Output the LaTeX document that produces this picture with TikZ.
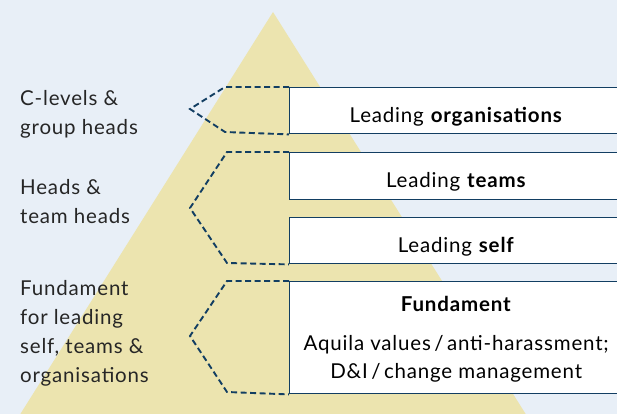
\documentclass[tikz,border=0pt]{standalone}
\usepackage{fontspec}
\setmainfont{Lato}[LetterSpace=4]
\definecolor{bgblue}{RGB}{232,239,247}
\definecolor{pyr}{RGB}{236,228,175}
\definecolor{navy}{RGB}{18,62,98}
\begin{document}
\begin{tikzpicture}[x=1pt,y=-1pt,
  lvl/.style={draw=navy, line width=1.4pt, fill=white, anchor=north west,
    minimum width=333pt, inner xsep=0pt, inner ysep=0pt,
    font=\fontsize{20.5}{29}\selectfont, text height=23pt, text depth=0pt},
  fundbox/.style={draw=navy, line width=1.4pt, fill=white, anchor=north west,
    minimum width=333pt, inner xsep=0pt, inner ysep=0pt, align=center,
    font=\fontsize{20.5}{28}\selectfont},
  lefttxt/.style={anchor=base west, align=left, inner sep=0pt,
    font=\fontsize{20.5}{29}\selectfont, text=black!85},
  bracket/.style={draw=navy, line width=1.9pt, dash pattern=on 6pt off 3.5pt}]
\useasboundingbox (0,0) rectangle (617,414);
\fill[bgblue] (0,0) rectangle (617,414);
\clip (0,0) rectangle (617,414);
\fill[pyr] (273,12) -- (4,440) -- (542,440) -- cycle;

\node[lvl, minimum height=46pt] (org) at (289,87) {Leading \textbf{organisations}};
\node[lvl, minimum height=47pt] (teams) at (289,152) {Leading \textbf{teams}};
\node[lvl, minimum height=46pt] (self) at (289,217) {Leading \textbf{self}};
\node[fundbox, minimum height=112pt, text depth=-12pt] (fund) at (289,281)
  {\textbf{Fundament}\\[11pt]Aquila values\,/\,anti-harassment;\\D\&I\,/\,change management};

\node[lefttxt] (t1) at (20,135) {C-levels \&\\group heads};
\node[lefttxt] (t2) at (20,223) {Heads \&\\team heads};
\node[lefttxt] (t3) at (20,382) {Fundament\\for leading\\self, teams \&\\organisations};

\coordinate (b1a) at (225,87);
\coordinate (b1p) at (190,109);
\coordinate (b1b) at (225,132);
\coordinate (b2a) at (227,152);
\coordinate (b2p) at (190,208);
\coordinate (b2b) at (227,263);
\coordinate (b3a) at (227,281);
\coordinate (b3p) at (190,336);
\coordinate (b3b) at (227,392);
\draw[bracket] (org.north west) -- (b1a) -- (b1p) -- (b1b) -- (org.south west);
\draw[bracket] (teams.north west) -- (b2a) -- (b2p) -- (b2b) -- (self.south west);
\draw[bracket] (fund.north west) -- (b3a) -- (b3p) -- (b3b) -- (fund.south west);
\end{tikzpicture}
\end{document}
